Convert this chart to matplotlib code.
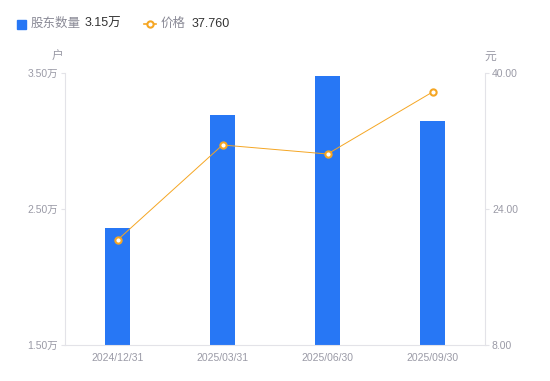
import matplotlib
matplotlib.use("Agg")
import matplotlib.pyplot as plt

plt.rcParams['font.family'] = ['Liberation Sans', 'Noto Sans CJK SC', 'DejaVu Sans']

categories = ["2024/12/31", "2025/03/31", "2025/06/30", "2025/09/30"]
holders = [2.36, 3.19, 3.48, 3.15]  # 万户
price = [20.35, 31.53, 30.47, 37.76]
left_ticks = [1.5, 2.5, 3.5]
left_labels = ["1.50万", "2.50万", "3.50万"]
right_ticks = [8, 24, 40]
right_labels = ["8.00", "24.00", "40.00"]

bar_color = "#2777f5"
line_color = "#f5a623"
tick_color = "#9a9aa6"
axis_color = "#e3e3e8"

fig = plt.figure(figsize=(5.5, 3.81), dpi=100)
ax = fig.add_axes([65/550, 36/381, 420/550, 272/381])
ax2 = ax.twinx()

x = list(range(len(categories)))
ax.bar(x, holders, width=0.24, color=bar_color, zorder=2)
ax.set_xlim(-0.5, len(categories) - 0.5)
ax.set_ylim(1.5, 3.5)
ax.set_yticks(left_ticks)
ax.set_yticklabels(left_labels)
ax.set_xticks(x)
ax.set_xticklabels(categories)

ax2.plot(x, price, color=line_color, linewidth=0.7, marker='o', markersize=4.5,
         markerfacecolor='white', markeredgecolor=line_color, markeredgewidth=1.5, zorder=3)
ax2.set_ylim(8, 40)
ax2.set_yticks(right_ticks)
ax2.set_yticklabels(right_labels)

for a in (ax, ax2):
    for s in a.spines.values():
        s.set_visible(False)
    a.tick_params(colors=tick_color, labelsize=7.5, length=3, width=0.8)
    a.tick_params(axis='y', color=axis_color)

ax.spines['left'].set_visible(True)
ax.spines['left'].set_color(axis_color)
ax.spines['bottom'].set_visible(True)
ax.spines['bottom'].set_color(axis_color)
ax2.spines['right'].set_visible(True)
ax2.spines['right'].set_color(axis_color)
ax.tick_params(axis='x', length=0, pad=6)
ax.tick_params(axis='y', pad=2)
ax2.tick_params(axis='y', pad=2)

fig.text(58/550, 1 - 57/381, "户", fontsize=8.5, color=tick_color, ha='center', va='center')
fig.text(490/550, 1 - 57/381, "元", fontsize=8.5, color=tick_color, ha='center', va='center')

# Legend
ly = 1 - 24/381
fig.patches.append(plt.Rectangle((17/550, ly - 4.5/381), 9/550, 9/381, transform=fig.transFigure,
                                 color=bar_color, figure=fig))
fig.text(31/550, ly, "股东数量", fontsize=9, color="#8a8a96", va='center', ha='left')
fig.text(85/550, ly, "3.15万", fontsize=9, color="#333333", va='center', ha='left')
fig.lines.append(plt.Line2D([144/550, 156/550], [ly, ly], transform=fig.transFigure, color=line_color,
                            linewidth=1.2))
fig.lines.append(plt.Line2D([150/550], [ly], transform=fig.transFigure, color=line_color,
                            marker='o', markersize=4.5, markerfacecolor='white', markeredgewidth=1.5))
fig.text(161/550, ly, "价格", fontsize=9, color="#8a8a96", va='center', ha='left')
fig.text(192/550, ly, "37.760", fontsize=9, color="#333333", va='center', ha='left')

fig.savefig("out.png", dpi=100)
